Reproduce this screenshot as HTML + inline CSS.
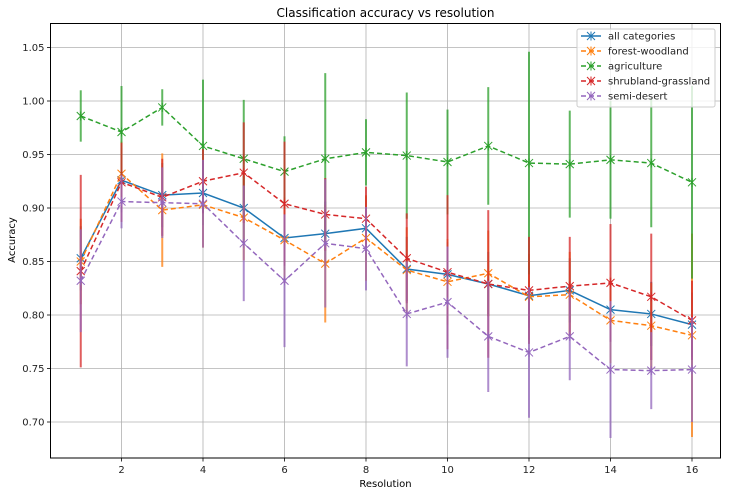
<!DOCTYPE html>
<html><head><meta charset="utf-8"><style>
body{margin:0;background:#fff;}
svg{display:block;font-family:"DejaVu Sans","Liberation Sans",sans-serif;}
</style></head><body>
<svg id="chart" width="730" height="496"></svg>
<script>
const resolutions=[1,2,3,4,5,6,7,8,9,10,11,12,13,14,15,16];
const allCat=[0.853,0.926,0.912,0.914,0.900,0.872,0.876,0.881,0.843,0.838,0.829,0.818,0.823,0.805,0.801,0.791];
const allErr=[0.03,0.03,0.03,0.03,0.03,0.03,0.03,0.03,0.03,0.03,0.03,0.03,0.03,0.03,0.03,0.03];
const forest=[0.850,0.932,0.898,0.903,0.891,0.870,0.848,0.872,0.842,0.831,0.839,0.817,0.819,0.795,0.790,0.781];
const forestErr=[0.04,0.03,0.053,0.04,0.04,0.04,0.055,0.04,0.04,0.04,0.04,0.04,0.04,0.04,0.04,0.095];
const agri=[0.986,0.971,0.994,0.958,0.946,0.934,0.946,0.952,0.949,0.943,0.958,0.942,0.941,0.945,0.942,0.924];
const agriErr=[0.024,0.043,0.017,0.062,0.055,0.033,0.08,0.031,0.059,0.049,0.055,0.104,0.05,0.055,0.06,0.09];
const shrub=[0.841,0.924,0.910,0.925,0.933,0.904,0.894,0.890,0.853,0.840,0.829,0.823,0.827,0.830,0.817,0.795];
const shrubErr=[0.09,0.037,0.036,0.03,0.047,0.058,0.034,0.03,0.042,0.072,0.069,0.05,0.046,0.055,0.059,0.037];
const semi=[0.832,0.906,0.905,0.904,0.867,0.832,0.867,0.862,0.801,0.812,0.780,0.765,0.780,0.749,0.748,0.749];
const semiErr=[0.048,0.025,0.033,0.041,0.054,0.062,0.06,0.039,0.049,0.052,0.052,0.061,0.041,0.064,0.036,0.049];
const yTicks=[0.70,0.75,0.80,0.85,0.90,0.95,1.00,1.05];
const xTicks=[2,4,6,8,10,12,14,16];
const series=[
 {name:"all categories",v:allCat,e:allErr,c:"#1f77b4",dash:""},
 {name:"forest-woodland",v:forest,e:forestErr,c:"#ff7f0e",dash:"5,3"},
 {name:"agriculture",v:agri,e:agriErr,c:"#2ca02c",dash:"5,3"},
 {name:"shrubland-grassland",v:shrub,e:shrubErr,c:"#d62728",dash:"5,3"},
 {name:"semi-desert",v:semi,e:semiErr,c:"#9467bd",dash:"5,3"}];
const L=50.5,R=720.5,T=23.5,B=458;
const xs=v=>80.75+(v-1)*40.75;
const ys=v=>101+(1-v)*1070;
const svg=document.getElementById('chart');
const NS="http://www.w3.org/2000/svg";
function mk(t,a,p){const e=document.createElementNS(NS,t);for(const k in a)e.setAttribute(k,a[k]);(p||svg).appendChild(e);return e;}
// grid
yTicks.forEach(t=>{const y=ys(t);
 const g=mk('line',{x1:L,x2:R,y1:y,y2:y,stroke:'#b0b0b0','stroke-width':0.8});
 
 mk('line',{x1:L-3.5,x2:L,y1:y,y2:y,stroke:'#000','stroke-width':0.8});
 const tx=mk('text',{x:L-6,y:y+3.5,'text-anchor':'end','font-size':10,fill:'#222'});tx.textContent=t.toFixed(2);
 });
xTicks.forEach(t=>{const x=xs(t);
 const g=mk('line',{x1:x,x2:x,y1:T,y2:B,stroke:'#b0b0b0','stroke-width':0.8});
 
 mk('line',{x1:x,x2:x,y1:B,y2:B+3.5,stroke:'#000','stroke-width':0.8});
 const tx=mk('text',{x:x,y:B+15,'text-anchor':'middle','font-size':10,fill:'#222'});tx.textContent=t;
 });
const defs=mk('defs',{});const cp=mk('clipPath',{id:'cp'},defs);mk('rect',{x:L,y:T,width:R-L,height:B-T},cp);
function star(g,x,y,c){[[-4,-4,4,4],[-4,4,4,-4],[0,-4.5,0,4.5]].forEach(d=>mk('line',{x1:x+d[0],y1:y+d[1],x2:x+d[2],y2:y+d[3],stroke:c,'stroke-width':1},g));}
series.forEach(s=>{
 const g=mk('g',{'clip-path':'url(#cp)'});
 
 resolutions.forEach((r,i)=>{const eb=mk('line',{x1:xs(r),x2:xs(r),y1:ys(s.v[i]-s.e[i]),y2:ys(s.v[i]+s.e[i]),stroke:s.c,'stroke-width':2,opacity:0.75},g);
  });
 const p=mk('polyline',{points:resolutions.map((r,i)=>xs(r)+','+ys(s.v[i])).join(' '),fill:'none',stroke:s.c,'stroke-width':1.5,'stroke-dasharray':s.dash},g);
 
 resolutions.forEach((r,i)=>star(g,xs(r),ys(s.v[i]),s.c));
});
mk('rect',{x:L,y:T,width:R-L,height:B-T,fill:'none',stroke:'#000','stroke-width':1});
const ti=mk('text',{x:(L+R)/2,y:17,'text-anchor':'middle','font-size':12});ti.textContent='Classification accuracy vs resolution';

const xl=mk('text',{x:(L+R)/2,y:487,'text-anchor':'middle','font-size':10});xl.textContent='Resolution';

const yl=mk('text',{x:15,y:240,'text-anchor':'middle','font-size':10,transform:'rotate(-90 15 240)'});yl.textContent='Accuracy';

const lg=mk('g',{});
mk('rect',{x:577,y:29,width:138,height:78,rx:2,fill:'#fff','fill-opacity':0.8,stroke:'#ccc'},lg);
series.forEach((s,i)=>{const y=36+i*15;
 const e=mk('g',{},lg);
 mk('line',{x1:581,x2:601,y1:y,y2:y,stroke:s.c,'stroke-width':1.5,'stroke-dasharray':s.dash},e);
 star(e,591,y,s.c);
 const t=mk('text',{x:608,y:y+3.5,'font-size':10,fill:'#222'},e);t.textContent=s.name;});
</script>
</body></html>
